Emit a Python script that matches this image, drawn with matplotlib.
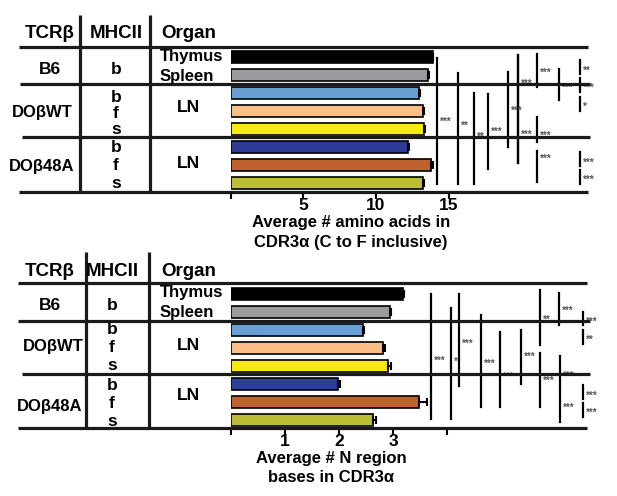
import matplotlib.pyplot as plt

plt.rcParams['font.family'] = ['Liberation Sans', 'DejaVu Sans']
plt.rcParams['font.weight'] = 'bold'

W, H = 617, 496

# rows: B6 thymus, B6 spleen, DObWT b/f/s, DOb48A b/f/s
bar_colors = ['#000000', '#9c9c9e', '#6a9fd4', '#fbbf87',
              '#f7ea14', '#2b3d96', '#c0622d', '#bcbe35']

aa_means = [13.9, 13.6, 12.95, 13.2, 13.3, 12.2, 13.8, 13.25]
aa_err = [0.05, 0.05, 0.05, 0.1, 0.08, 0.05, 0.15, 0.05]

n_means = [3.18, 2.94, 2.44, 2.82, 2.90, 1.98, 3.48, 2.62]
n_err = [0.03, 0.02, 0.03, 0.03, 0.07, 0.04, 0.14, 0.06]

aa_ticks = [0, 5, 10, 15]
aa_ticklabels = ['', '5', '10', '15']
n_ticks = [0, 1, 2, 3, 4]
n_ticklabels = ['', '1', '2', '3', '']

# significance lines: (x value, from row, to row, label, label row)
aa_sig = [
    (14.21, 0.04, 7.07, '***', 3.44),
    (15.64, 0.89, 7.06, '**', 3.67),
    (16.74, 2.00, 7.06, '**', 4.28),
    (17.70, 2.06, 6.22, '***', 4.00),
    (19.07, 0.83, 5.00, '***', 2.83),
    (19.76, -0.11, 5.89, '***', 1.33),
    (19.76, -0.11, 5.89, '***', 4.17),
    (21.07, -0.17, 1.67, '***', 0.72),
    (21.07, 3.33, 4.72, '***', 4.22),
    (21.07, 5.22, 6.94, '***', 5.50),
    (22.58, 0.67, 2.39, '***', 1.56),
    (24.02, 0.17, 0.94, '**', 0.61),
    (24.02, 1.17, 1.94, '***', 1.56),
    (24.02, 2.22, 3.00, '*', 2.61),
    (24.02, 5.28, 6.06, '***', 5.72),
    (24.02, 6.28, 7.06, '***', 6.67),
]
n_sig = [
    (3.70, 0.03, 6.97, '***', 3.58),
    (4.07, 0.81, 6.97, '*', 3.64),
    (4.22, 0.03, 5.14, '***', 2.64),
    (4.63, 1.19, 6.31, '***', 3.75),
    (4.98, 2.14, 6.31, '***', 4.47),
    (5.37, 2.03, 5.03, '***', 3.36),
    (5.72, -0.19, 2.86, '**', 1.31),
    (5.72, 3.31, 6.31, '***', 4.69),
    (6.07, -0.03, 1.75, '***', 0.81),
    (6.09, 3.47, 5.25, '***', 4.42),
    (6.09, 5.36, 7.14, '***', 6.19),
    (6.52, 1.03, 1.75, '***', 1.42),
    (6.52, 2.03, 2.81, '**', 2.42),
    (6.52, 5.08, 5.86, '***', 5.53),
    (6.52, 6.08, 6.86, '***', 6.47),
]

fig = plt.figure(figsize=(W / 100, H / 100), dpi=100)


def box(x0, y0, x1, y1):
    return [x0 / W, 1 - y1 / H, (x1 - x0) / W, (y1 - y0) / H]


def bar_panel(rect, means, err, xmax, ylim, ticks, ticklabels, dx, sig):
    ax = fig.add_axes(rect)
    ax.patch.set_visible(False)
    rows = list(range(len(means)))
    ax.barh(rows, means, height=0.67, color=bar_colors,
            edgecolor='black', linewidth=1.2, zorder=2)
    ax.errorbar(means, rows, xerr=[[0] * len(err), err], fmt='none',
                ecolor='black', elinewidth=1.5, capsize=3, capthick=1.5,
                zorder=3)
    for x, r0, r1, lab, rl in sig:
        ax.plot([x, x], [r0, r1], color='black', lw=1.6, clip_on=False)
        ax.text(x + dx, rl + 0.15, lab, fontsize=7, color='#555555',
                ha='left', va='center', clip_on=False)
    ax.set_xlim(0, xmax)
    ax.set_ylim(ylim)
    for s in ax.spines.values():
        s.set_visible(False)
    ax.set_yticks([])
    ax.set_xticks(ticks)
    ax.set_xticklabels(ticklabels)
    ax.tick_params(axis='x', direction='out', length=5, width=1.5,
                   labelsize=12.5, pad=0)
    return ax


bar_panel(box(230.5, 47, 588, 191.5), aa_means, aa_err, 24.57,
          (7.47, -0.556), aa_ticks, aa_ticklabels, 0.2, aa_sig)
bar_panel(box(231, 284, 587, 427.5), n_means, n_err, 6.59,
          (7.44, -0.53), n_ticks, n_ticklabels, 0.05, n_sig)

# table lines and labels drawn on top in pixel units
lay = fig.add_axes([0, 0, 1, 1])
lay.set_xlim(0, W)
lay.set_ylim(H, 0)
lay.axis('off')
lay.set_zorder(5)

lw = 2.3
panels = [
    dict(hlines=[(47, 19, 588), (84, 20, 590), (137, 22, 590), (191.5, 19, 588)],
         vlines=[(80, 15, 191.5), (150, 15, 191.5)], head_y=34,
         mhc_x=116, b6_y=69, thy_y=57, spl_y=77,
         wt_y=112, wt_x=42, wt_rows=[97, 113, 130], wt_ln=108,
         a_y=167, a_x=42, a_rows=[148, 166, 183], a_ln=163,
         lab_x=351, lab_y=[223, 242],
         label=['Average # amino acids in', 'CDR3α (C to F inclusive)']),
    dict(hlines=[(283, 18, 587), (321, 18, 590), (373.5, 22, 590), (427.5, 18, 587)],
         vlines=[(86, 252, 428), (149, 252, 428)], head_y=272,
         mhc_x=112, b6_y=306, thy_y=293, spl_y=313,
         wt_y=346, wt_x=53, wt_rows=[330, 347, 365], wt_ln=345,
         a_y=406, a_x=50, a_rows=[385, 403, 421], a_ln=395,
         lab_x=331, lab_y=[458, 478],
         label=['Average # N region', 'bases in CDR3α']),
]

for p in panels:
    for y, x0, x1 in p['hlines']:
        lay.plot([x0, x1], [y, y], color='#1a1a1a', lw=lw, solid_capstyle='butt')
    for x, y0, y1 in p['vlines']:
        lay.plot([x, x], [y0, y1], color='#1a1a1a', lw=lw, solid_capstyle='butt')
    hy = p['head_y']
    lay.text(50, hy, 'TCRβ', fontsize=13.5, ha='center', va='center')
    lay.text(p['mhc_x'], hy, 'MHCII', fontsize=13.5, ha='center', va='center')
    lay.text(161, hy, 'Organ', fontsize=13.5, ha='left', va='center')
    lay.text(50, p['b6_y'], 'B6', fontsize=12.5, ha='center', va='center')
    lay.text(p['mhc_x'], p['b6_y'], 'b', fontsize=12.5, ha='center', va='center')
    lay.text(160, p['thy_y'], 'Thymus', fontsize=12, ha='left', va='center')
    lay.text(160, p['spl_y'], 'Spleen', fontsize=12, ha='left', va='center')
    lay.text(p['wt_x'], p['wt_y'], 'DOβWT', fontsize=12, ha='center', va='center')
    lay.text(p['a_x'], p['a_y'], 'DOβ48A', fontsize=12, ha='center', va='center')
    for y, s in zip(p['wt_rows'], 'bfs'):
        lay.text(p['mhc_x'], y, s, fontsize=12.5, ha='center', va='center')
    for y, s in zip(p['a_rows'], 'bfs'):
        lay.text(p['mhc_x'], y, s, fontsize=12.5, ha='center', va='center')
    lay.text(188, p['wt_ln'], 'LN', fontsize=12.5, ha='center', va='center')
    lay.text(188, p['a_ln'], 'LN', fontsize=12.5, ha='center', va='center')
    for y, s in zip(p['lab_y'], p['label']):
        lay.text(p['lab_x'], y, s, fontsize=12, ha='center', va='center')

fig.savefig('out.png', dpi=100)
